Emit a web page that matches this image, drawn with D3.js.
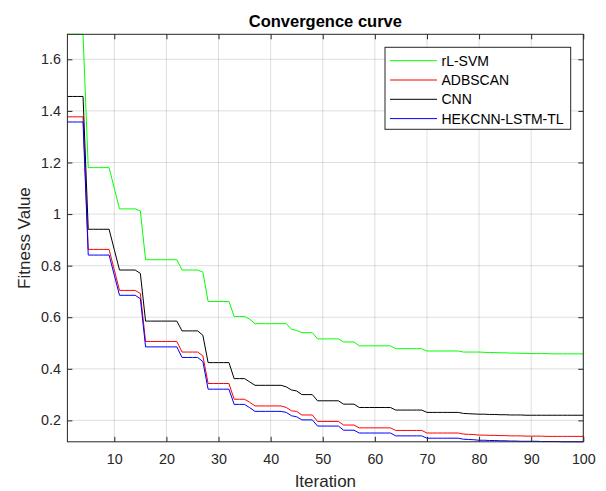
<!DOCTYPE html>
<html>
<head>
<meta charset="utf-8">
<script src="https://cdn.jsdelivr.net/npm/d3@7"></script>
<style>
  body { margin: 0; background: #fff; }
  svg { display: block; font-family: "Liberation Sans", Arial, sans-serif; }
</style>
</head>
<body>
<svg width="606" height="491"></svg>
<script>
// 迭代次数 1..100
var iterations = d3.range(1, 101);

var seriesNames = ["rL-SVM", "ADBSCAN", "CNN", "HEKCNN-LSTM-TL"];
var seriesColors = ["#00ff00", "#ff0000", "#000000", "#0000ff"];

var rlsvm = [
  1.697, 1.697, 1.697, 1.697, 1.18, 1.18, 1.18, 1.18, 1.18, 1.10,
  1.02, 1.02, 1.02, 1.02, 1.012, 0.823, 0.823, 0.823, 0.823, 0.823,
  0.823, 0.823, 0.783, 0.783, 0.783, 0.783, 0.775, 0.661, 0.661, 0.661,
  0.661, 0.661, 0.603, 0.603, 0.603, 0.592, 0.575, 0.575, 0.575, 0.575,
  0.575, 0.575, 0.575, 0.553, 0.549, 0.540, 0.540, 0.540, 0.516, 0.516,
  0.516, 0.516, 0.516, 0.504, 0.504, 0.504, 0.489, 0.489, 0.489, 0.489,
  0.489, 0.489, 0.489, 0.478, 0.478, 0.478, 0.478, 0.478, 0.478, 0.469,
  0.469, 0.469, 0.469, 0.469, 0.469, 0.469, 0.465, 0.465, 0.465, 0.465,
  0.464, 0.463, 0.463, 0.462, 0.462, 0.461, 0.461, 0.460, 0.460, 0.459,
  0.459, 0.459, 0.459, 0.458, 0.458, 0.458, 0.458, 0.458, 0.458, 0.458
];

var adbscan = [
  1.377, 1.377, 1.377, 1.377, 0.863, 0.863, 0.863, 0.863, 0.863, 0.783,
  0.704, 0.704, 0.704, 0.704, 0.692, 0.506, 0.506, 0.506, 0.506, 0.506,
  0.506, 0.506, 0.465, 0.465, 0.465, 0.465, 0.450, 0.343, 0.343, 0.343,
  0.343, 0.343, 0.282, 0.282, 0.282, 0.270, 0.256, 0.256, 0.256, 0.256,
  0.256, 0.256, 0.250, 0.237, 0.235, 0.221, 0.221, 0.221, 0.196, 0.196,
  0.196, 0.196, 0.196, 0.182, 0.182, 0.182, 0.171, 0.171, 0.171, 0.171,
  0.171, 0.171, 0.171, 0.161, 0.161, 0.161, 0.161, 0.161, 0.161, 0.151,
  0.151, 0.151, 0.151, 0.151, 0.151, 0.151, 0.147, 0.146, 0.145, 0.143,
  0.143, 0.142, 0.142, 0.141, 0.141, 0.140, 0.140, 0.140, 0.139, 0.139,
  0.139, 0.139, 0.138, 0.138, 0.138, 0.138, 0.138, 0.138, 0.138, 0.138
];

var cnn = [
  1.456, 1.456, 1.456, 1.456, 0.941, 0.941, 0.941, 0.941, 0.941, 0.862,
  0.783, 0.783, 0.783, 0.783, 0.770, 0.585, 0.585, 0.585, 0.585, 0.585,
  0.585, 0.585, 0.547, 0.547, 0.547, 0.547, 0.530, 0.424, 0.424, 0.424,
  0.424, 0.424, 0.362, 0.362, 0.362, 0.349, 0.336, 0.336, 0.336, 0.336,
  0.336, 0.336, 0.330, 0.318, 0.314, 0.300, 0.300, 0.300, 0.276, 0.276,
  0.276, 0.276, 0.276, 0.263, 0.263, 0.263, 0.250, 0.250, 0.250, 0.250,
  0.250, 0.250, 0.250, 0.240, 0.240, 0.240, 0.240, 0.240, 0.240, 0.231,
  0.231, 0.231, 0.231, 0.231, 0.231, 0.231, 0.227, 0.226, 0.225, 0.224,
  0.224, 0.223, 0.223, 0.222, 0.222, 0.221, 0.221, 0.221, 0.220, 0.220,
  0.220, 0.220, 0.220, 0.220, 0.220, 0.220, 0.220, 0.220, 0.220, 0.220
];

var hekcnn = [
  1.357, 1.357, 1.357, 1.357, 0.841, 0.841, 0.841, 0.841, 0.841, 0.763,
  0.685, 0.685, 0.685, 0.685, 0.672, 0.485, 0.485, 0.485, 0.485, 0.485,
  0.485, 0.485, 0.444, 0.444, 0.444, 0.444, 0.428, 0.321, 0.321, 0.321,
  0.321, 0.321, 0.262, 0.262, 0.262, 0.249, 0.235, 0.235, 0.235, 0.235,
  0.235, 0.235, 0.231, 0.218, 0.214, 0.202, 0.202, 0.202, 0.178, 0.178,
  0.178, 0.178, 0.178, 0.162, 0.162, 0.162, 0.151, 0.151, 0.151, 0.151,
  0.151, 0.151, 0.151, 0.140, 0.140, 0.140, 0.140, 0.140, 0.140, 0.131,
  0.131, 0.131, 0.131, 0.131, 0.131, 0.131, 0.127, 0.126, 0.125, 0.123,
  0.123, 0.122, 0.122, 0.121, 0.121, 0.120, 0.120, 0.119, 0.119, 0.119,
  0.119, 0.118, 0.118, 0.118, 0.118, 0.117, 0.117, 0.117, 0.117, 0.117
];

var xTicks = [10, 20, 30, 40, 50, 60, 70, 80, 90, 100];
var yTicks = [0.2, 0.4, 0.6, 0.8, 1.0, 1.2, 1.4, 1.6];

var allSeries = [rlsvm, adbscan, cnn, hekcnn];

// 坐标区 (注意: 不能用 top 做变量名)
var axL = 67.4, axR = 583.3, axT = 34.3, axB = 441.8;
var axisColor = "#262626";

var svg = d3.select("svg");

var x = d3.scaleLinear()
    .domain([1, 100])
    .range([axL, axR]);

// axis tight: 取数据范围
var y = d3.scaleLinear()
    .domain([d3.min(allSeries, s => d3.min(s)), d3.max(allSeries, s => d3.max(s))])
    .range([axB, axT]);

// 网格
var grid = svg.append("g").attr("stroke", axisColor).attr("stroke-opacity", 0.15);
grid.selectAll("line.gx").data(xTicks).enter().append("line")
    .attr("x1", d => x(d)).attr("x2", d => x(d))
    .attr("y1", axT).attr("y2", axB);
grid.selectAll("line.gy").data(yTicks).enter().append("line")
    .attr("x1", axL).attr("x2", axR)
    .attr("y1", d => y(d)).attr("y2", d => y(d));

// 曲线
var line = d3.line()
    .x((d, i) => x(iterations[i]))
    .y(d => y(d));

svg.append("g").selectAll("path")
    .data(allSeries)
    .enter().append("path")
    .attr("d", d => line(d))
    .attr("fill", "none")
    .attr("stroke", (d, i) => seriesColors[i])
    .attr("stroke-width", 1);

// 坐标轴
function styleAxis(g) {
    g.select(".domain").remove();
    g.selectAll(".tick line").attr("stroke", axisColor);
    g.selectAll(".tick text").attr("fill", axisColor).attr("font-size", 14.3)
        .attr("font-family", "Liberation Sans, Arial, sans-serif");
}

svg.append("g")
    .attr("transform", "translate(0," + axB + ")")
    .call(d3.axisBottom(x).tickValues(xTicks).tickSizeInner(-5).tickSizeOuter(0).tickPadding(12).tickFormat(d3.format("d")))
    .call(styleAxis);

svg.append("g")
    .attr("transform", "translate(0," + axT + ")")
    .call(d3.axisTop(x).tickValues(xTicks).tickSizeInner(-5).tickSizeOuter(0).tickFormat(""))
    .call(styleAxis);

svg.append("g")
    .attr("transform", "translate(" + axL + ",0)")
    .call(d3.axisLeft(y).tickValues(yTicks).tickSizeInner(-5).tickSizeOuter(0).tickPadding(6.5).tickFormat(d => String(+d.toFixed(1))))
    .call(styleAxis);

svg.append("g")
    .attr("transform", "translate(" + axR + ",0)")
    .call(d3.axisRight(y).tickValues(yTicks).tickSizeInner(-5).tickSizeOuter(0).tickFormat(""))
    .call(styleAxis);

// 边框
svg.append("rect")
    .attr("x", axL).attr("y", axT)
    .attr("width", axR - axL).attr("height", axB - axT)
    .attr("fill", "none").attr("stroke", axisColor).attr("stroke-width", 1);

// 标题和轴标签
svg.append("text")
    .attr("x", (axL + axR) / 2).attr("y", 27)
    .attr("text-anchor", "middle")
    .attr("font-size", 16.5).attr("font-weight", "bold")
    .attr("fill", "#000")
    .text("Convergence curve");

svg.append("text")
    .attr("x", (axL + axR) / 2).attr("y", 487)
    .attr("text-anchor", "middle")
    .attr("font-size", 17)
    .attr("fill", axisColor)
    .text("Iteration");

svg.append("text")
    .attr("transform", "translate(30," + (axT + axB) / 2 + ") rotate(-90)")
    .attr("text-anchor", "middle")
    .attr("font-size", 17)
    .attr("fill", axisColor)
    .text("Fitness Value");

// 图例
var legend = svg.append("g");
legend.append("rect")
    .attr("x", 385).attr("y", 47.3)
    .attr("width", 185.7).attr("height", 82)
    .attr("fill", "#fff").attr("stroke", axisColor).attr("stroke-width", 1);

var rows = legend.selectAll("g.row")
    .data(seriesNames)
    .enter().append("g")
    .attr("transform", (d, i) => "translate(0," + (60.7 + i * 19.3) + ")");

rows.append("line")
    .attr("x1", 390).attr("x2", 437)
    .attr("stroke", (d, i) => seriesColors[i]).attr("stroke-width", 1);

rows.append("text")
    .attr("x", 441.5).attr("dy", "0.35em")
    .attr("font-size", 14)
    .attr("fill", "#000")
    .text(d => d);
</script>
</body>
</html>
